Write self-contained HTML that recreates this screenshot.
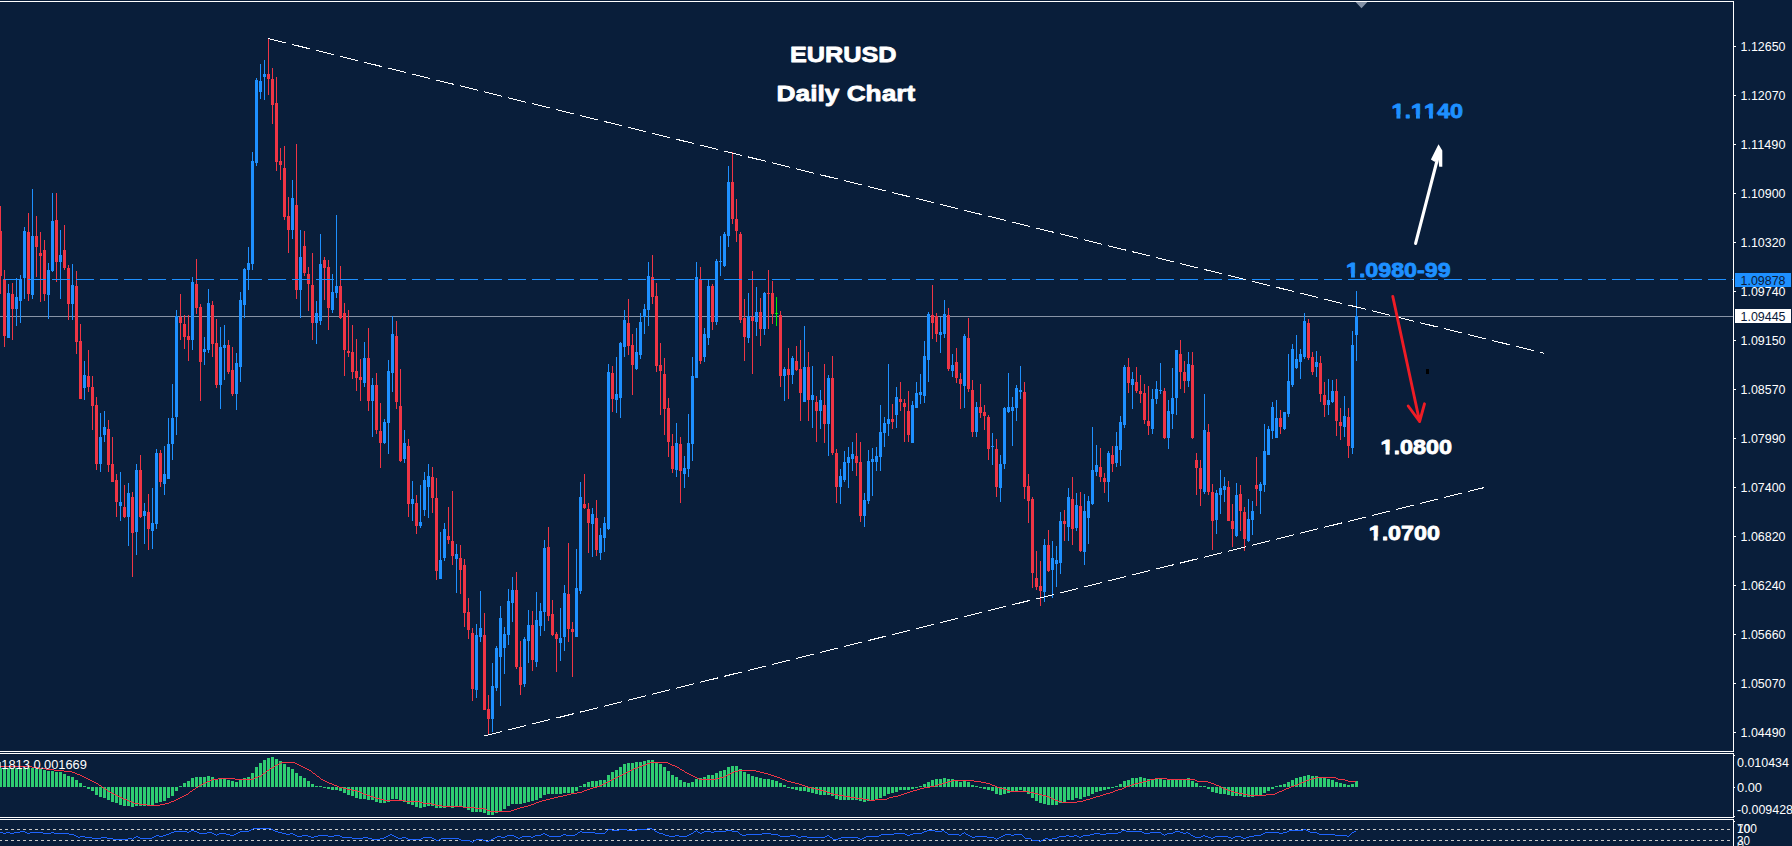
<!DOCTYPE html>
<html lang="en"><head><meta charset="utf-8"><title>EURUSD Daily Chart</title>
<style>html,body{margin:0;padding:0;background:#091e3a;overflow:hidden}body{width:1792px;height:846px}svg{display:block}text{font-family:"Liberation Sans",Arial,sans-serif}.ax{font-size:12px;fill:#fff}.b{font-weight:bold;font-kerning:none}</style></head><body>
<svg width="1792" height="846" viewBox="0 0 1792 846">
<rect width="1792" height="846" fill="#091e3a"/>
<path d="M0 316.5H1733" stroke="#8894a6" stroke-width="1" fill="none" shape-rendering="crispEdges"/>
<g shape-rendering="crispEdges">
<path fill="#1e90ff" d="M8 284h1v54h-1zM7 293h3v45h-3zM16 278h1v48h-1zM15 297h3v12h-3zM20 275h1v48h-1zM19 279h3v22h-3zM24 227h1v72h-1zM23 231h3v47h-3zM32 189h1v110h-1zM31 236h3v59h-3zM48 263h1v56h-1zM47 270h3v25h-3zM52 193h1v79h-1zM51 221h3v50h-3zM60 230h1v69h-1zM59 255h3v7h-3zM72 264h1v56h-1zM71 285h3v19h-3zM84 361h1v39h-1zM83 375h3v13h-3zM100 413h1v59h-1zM99 437h3v27h-3zM104 411h1v31h-1zM103 427h3v8h-3zM120 472h1v49h-1zM119 502h3v4h-3zM128 483h1v63h-1zM127 493h3v24h-3zM136 464h1v91h-1zM135 470h3v62h-3zM144 503h1v41h-1zM143 511h3v5h-3zM152 488h1v61h-1zM151 523h3v8h-3zM156 449h1v80h-1zM155 453h3v71h-3zM164 446h1v49h-1zM163 474h3v10h-3zM168 418h1v61h-1zM167 444h3v35h-3zM172 384h1v76h-1zM171 418h3v26h-3zM176 310h1v125h-1zM175 316h3v101h-3zM192 277h1v73h-1zM191 282h3v58h-3zM204 337h1v28h-1zM203 349h3v3h-3zM208 289h1v64h-1zM207 303h3v47h-3zM220 327h1v82h-1zM219 347h3v38h-3zM224 325h1v55h-1zM223 345h3v3h-3zM236 353h1v57h-1zM235 363h3v31h-3zM240 292h1v90h-1zM239 300h3v67h-3zM244 268h1v50h-1zM243 269h3v36h-3zM248 247h1v43h-1zM247 263h3v7h-3zM252 152h1v118h-1zM251 161h3v103h-3zM256 78h1v88h-1zM255 80h3v83h-3zM260 64h1v35h-1zM259 81h3v11h-3zM264 60h1v40h-1zM263 74h3v3h-3zM292 180h1v59h-1zM291 198h3v32h-3zM300 230h1v88h-1zM299 257h3v33h-3zM316 301h1v43h-1zM315 313h3v10h-3zM320 234h1v91h-1zM319 264h3v57h-3zM332 274h1v39h-1zM331 292h3v18h-3zM336 215h1v83h-1zM335 286h3v7h-3zM364 342h1v45h-1zM363 358h3v25h-3zM372 378h1v59h-1zM371 385h3v16h-3zM384 419h1v25h-1zM383 422h3v21h-3zM388 360h1v94h-1zM387 371h3v52h-3zM392 316h1v76h-1zM391 334h3v39h-3zM404 430h1v33h-1zM403 443h3v16h-3zM412 481h1v40h-1zM411 499h3v5h-3zM420 485h1v43h-1zM419 522h3v4h-3zM424 472h1v44h-1zM423 480h3v30h-3zM428 464h1v54h-1zM427 476h3v11h-3zM440 532h1v47h-1zM439 560h3v19h-3zM444 523h1v38h-1zM443 529h3v29h-3zM456 544h1v49h-1zM455 554h3v5h-3zM476 624h1v74h-1zM475 635h3v55h-3zM480 591h1v51h-1zM479 628h3v9h-3zM492 663h1v69h-1zM491 686h3v33h-3zM496 646h1v45h-1zM495 648h3v40h-3zM500 606h1v100h-1zM499 618h3v39h-3zM504 627h1v47h-1zM503 634h3v14h-3zM508 589h1v56h-1zM507 601h3v34h-3zM512 577h1v45h-1zM511 590h3v13h-3zM524 637h1v50h-1zM523 639h3v45h-3zM528 610h1v53h-1zM527 625h3v16h-3zM536 592h1v75h-1zM535 620h3v42h-3zM540 603h1v33h-1zM539 611h3v15h-3zM544 540h1v91h-1zM543 548h3v64h-3zM560 608h1v53h-1zM559 638h3v5h-3zM564 585h1v66h-1zM563 593h3v44h-3zM576 549h1v88h-1zM575 588h3v49h-3zM580 482h1v112h-1zM579 497h3v94h-3zM592 508h1v49h-1zM591 514h3v10h-3zM600 528h1v32h-1zM599 535h3v18h-3zM604 517h1v35h-1zM603 523h3v15h-3zM608 364h1v166h-1zM607 372h3v157h-3zM616 357h1v56h-1zM615 394h3v6h-3zM620 342h1v76h-1zM619 343h3v55h-3zM624 310h1v47h-1zM623 320h3v27h-3zM636 328h1v42h-1zM635 352h3v17h-3zM640 313h1v46h-1zM639 322h3v33h-3zM644 304h1v30h-1zM643 309h3v8h-3zM648 262h1v64h-1zM647 276h3v34h-3zM676 423h1v54h-1zM675 443h3v27h-3zM684 456h1v32h-1zM683 468h3v6h-3zM688 414h1v63h-1zM687 443h3v26h-3zM692 357h1v104h-1zM691 376h3v68h-3zM696 262h1v116h-1zM695 277h3v101h-3zM704 328h1v34h-1zM703 334h3v23h-3zM708 280h1v65h-1zM707 286h3v52h-3zM716 259h1v66h-1zM715 261h3v61h-3zM720 236h1v40h-1zM719 261h3v1h-3zM724 232h1v35h-1zM723 234h3v32h-3zM728 166h1v81h-1zM727 182h3v54h-3zM748 293h1v50h-1zM747 316h3v22h-3zM756 287h1v49h-1zM755 312h3v10h-3zM764 292h1v43h-1zM763 293h3v36h-3zM784 367h1v34h-1zM783 369h3v7h-3zM792 356h1v28h-1zM791 358h3v17h-3zM804 326h1v76h-1zM803 367h3v35h-3zM812 366h1v62h-1zM811 395h3v5h-3zM820 390h1v39h-1zM819 400h3v11h-3zM828 375h1v81h-1zM827 378h3v46h-3zM840 469h1v35h-1zM839 476h3v11h-3zM844 451h1v31h-1zM843 462h3v18h-3zM848 447h1v41h-1zM847 457h3v6h-3zM852 442h1v29h-1zM851 454h3v5h-3zM864 493h1v34h-1zM863 500h3v16h-3zM868 450h1v54h-1zM867 461h3v40h-3zM872 448h1v48h-1zM871 459h3v3h-3zM876 447h1v24h-1zM875 456h3v6h-3zM880 405h1v66h-1zM879 432h3v25h-3zM884 417h1v30h-1zM883 423h3v10h-3zM888 364h1v72h-1zM887 419h3v5h-3zM896 387h1v41h-1zM895 397h3v18h-3zM912 401h1v42h-1zM911 405h3v38h-3zM916 382h1v26h-1zM915 393h3v15h-3zM920 374h1v30h-1zM919 392h3v3h-3zM924 341h1v62h-1zM923 356h3v40h-3zM928 312h1v70h-1zM927 314h3v46h-3zM940 317h1v36h-1zM939 332h3v3h-3zM944 300h1v38h-1zM943 314h3v20h-3zM952 354h1v23h-1zM951 365h3v6h-3zM964 334h1v74h-1zM963 336h3v50h-3zM976 402h1v35h-1zM975 407h3v25h-3zM992 433h1v32h-1zM991 446h3v1h-3zM1000 455h1v47h-1zM999 464h3v24h-3zM1004 407h1v62h-1zM1003 408h3v56h-3zM1008 373h1v40h-1zM1007 407h3v5h-3zM1012 397h1v49h-1zM1011 407h3v4h-3zM1016 385h1v36h-1zM1015 388h3v20h-3zM1020 366h1v33h-1zM1019 390h3v2h-3zM1044 539h1v63h-1zM1043 545h3v47h-3zM1052 541h1v57h-1zM1051 558h3v12h-3zM1056 546h1v41h-1zM1055 560h3v4h-3zM1060 512h1v62h-1zM1059 521h3v42h-3zM1068 488h1v53h-1zM1067 497h3v30h-3zM1076 493h1v38h-1zM1075 505h3v23h-3zM1084 494h1v71h-1zM1083 511h3v41h-3zM1088 496h1v48h-1zM1087 501h3v17h-3zM1092 427h1v78h-1zM1091 470h3v34h-3zM1096 445h1v31h-1zM1095 465h3v7h-3zM1108 451h1v51h-1zM1107 453h3v29h-3zM1116 432h1v35h-1zM1115 446h3v17h-3zM1120 416h1v50h-1zM1119 422h3v28h-3zM1124 365h1v63h-1zM1123 367h3v58h-3zM1132 372h1v37h-1zM1131 379h3v6h-3zM1152 389h1v45h-1zM1151 399h3v30h-3zM1156 381h1v23h-1zM1155 389h3v10h-3zM1160 363h1v31h-1zM1159 390h3v1h-3zM1168 400h1v49h-1zM1167 411h3v27h-3zM1172 368h1v61h-1zM1171 398h3v16h-3zM1176 350h1v65h-1zM1175 350h3v48h-3zM1188 352h1v35h-1zM1187 364h3v17h-3zM1204 394h1v100h-1zM1203 430h3v62h-3zM1216 490h1v44h-1zM1215 493h3v27h-3zM1220 470h1v44h-1zM1219 488h3v7h-3zM1224 477h1v25h-1zM1223 486h3v4h-3zM1236 483h1v54h-1zM1235 495h3v41h-3zM1248 499h1v43h-1zM1247 519h3v22h-3zM1252 501h1v34h-1zM1251 511h3v9h-3zM1260 482h1v32h-1zM1259 484h3v7h-3zM1264 424h1v68h-1zM1263 451h3v34h-3zM1268 426h1v29h-1zM1267 429h3v26h-3zM1272 402h1v37h-1zM1271 407h3v24h-3zM1276 400h1v38h-1zM1275 418h3v20h-3zM1284 412h1v18h-1zM1283 412h3v17h-3zM1288 354h1v63h-1zM1287 381h3v33h-3zM1292 344h1v43h-1zM1291 349h3v36h-3zM1296 335h1v34h-1zM1295 359h3v9h-3zM1300 349h1v30h-1zM1299 354h3v8h-3zM1304 313h1v46h-1zM1303 321h3v36h-3zM1316 351h1v26h-1zM1315 362h3v5h-3zM1328 379h1v36h-1zM1327 400h3v5h-3zM1332 380h1v23h-1zM1331 391h3v11h-3zM1344 396h1v41h-1zM1343 416h3v11h-3zM1352 331h1v123h-1zM1351 345h3v103h-3zM1356 291h1v70h-1zM1355 316h3v19h-3z"/>
<path fill="#ef3545" d="M0 206h1v88h-1zM-1 231h3v45h-3zM4 270h1v77h-1zM3 279h3v57h-3zM12 283h1v57h-1zM11 294h3v15h-3zM28 213h1v88h-1zM27 232h3v62h-3zM36 216h1v61h-1zM35 236h3v11h-3zM40 232h1v70h-1zM39 253h3v3h-3zM44 240h1v61h-1zM43 250h3v44h-3zM56 193h1v89h-1zM55 220h3v42h-3zM64 225h1v45h-1zM63 250h3v18h-3zM68 265h1v55h-1zM67 268h3v36h-3zM76 271h1v83h-1zM75 286h3v56h-3zM80 324h1v75h-1zM79 341h3v58h-3zM88 350h1v42h-1zM87 376h3v11h-3zM92 376h1v54h-1zM91 387h3v19h-3zM96 397h1v73h-1zM95 405h3v59h-3zM108 420h1v52h-1zM107 429h3v36h-3zM112 437h1v45h-1zM111 464h3v18h-3zM116 474h1v43h-1zM115 480h3v22h-3zM124 485h1v33h-1zM123 507h3v10h-3zM132 492h1v85h-1zM131 497h3v36h-3zM140 455h1v63h-1zM139 470h3v47h-3zM148 494h1v56h-1zM147 512h3v17h-3zM160 450h1v37h-1zM159 453h3v29h-3zM180 294h1v46h-1zM179 317h3v6h-3zM184 315h1v34h-1zM183 324h3v13h-3zM188 315h1v46h-1zM187 336h3v4h-3zM196 259h1v55h-1zM195 284h3v24h-3zM200 304h1v97h-1zM199 307h3v55h-3zM212 301h1v56h-1zM211 305h3v39h-3zM216 319h1v69h-1zM215 343h3v42h-3zM228 340h1v34h-1zM227 345h3v27h-3zM232 347h1v49h-1zM231 370h3v24h-3zM268 38h1v57h-1zM267 74h3v5h-3zM272 68h1v56h-1zM271 79h3v26h-3zM276 77h1v94h-1zM275 103h3v59h-3zM280 148h1v32h-1zM279 161h3v4h-3zM284 146h1v74h-1zM283 168h3v49h-3zM288 197h1v56h-1zM287 216h3v14h-3zM296 144h1v155h-1zM295 205h3v85h-3zM304 231h1v45h-1zM303 246h3v27h-3zM308 267h1v44h-1zM307 274h3v10h-3zM312 253h1v87h-1zM311 285h3v38h-3zM324 257h1v43h-1zM323 260h3v8h-3zM328 260h1v70h-1zM327 267h3v41h-3zM340 266h1v53h-1zM339 286h3v32h-3zM344 303h1v73h-1zM343 313h3v37h-3zM348 310h1v47h-1zM347 351h3v2h-3zM352 325h1v54h-1zM351 352h3v20h-3zM356 339h1v52h-1zM355 371h3v7h-3zM360 359h1v42h-1zM359 377h3v3h-3zM368 328h1v83h-1zM367 358h3v43h-3zM376 373h1v61h-1zM375 385h3v45h-3zM380 403h1v65h-1zM379 431h3v12h-3zM396 321h1v88h-1zM395 336h3v66h-3zM400 369h1v93h-1zM399 406h3v55h-3zM408 439h1v78h-1zM407 446h3v58h-3zM416 495h1v39h-1zM415 503h3v23h-3zM432 467h1v46h-1zM431 477h3v21h-3zM436 478h1v102h-1zM435 498h3v73h-3zM448 507h1v37h-1zM447 536h3v4h-3zM452 491h1v74h-1zM451 541h3v15h-3zM460 545h1v49h-1zM459 558h3v12h-3zM464 559h1v68h-1zM463 565h3v48h-3zM468 598h1v41h-1zM467 612h3v18h-3zM472 628h1v73h-1zM471 633h3v56h-3zM484 613h1v97h-1zM483 635h3v75h-3zM488 695h1v39h-1zM487 709h3v10h-3zM516 572h1v97h-1zM515 590h3v77h-3zM520 641h1v54h-1zM519 667h3v18h-3zM532 611h1v60h-1zM531 625h3v35h-3zM548 527h1v94h-1zM547 547h3v69h-3zM552 600h1v36h-1zM551 614h3v21h-3zM556 632h1v40h-1zM555 634h3v5h-3zM568 543h1v99h-1zM567 594h3v35h-3zM572 622h1v55h-1zM571 629h3v3h-3zM584 474h1v35h-1zM583 504h3v4h-3zM588 503h1v50h-1zM587 509h3v14h-3zM596 500h1v56h-1zM595 518h3v32h-3zM612 366h1v46h-1zM611 373h3v26h-3zM628 299h1v56h-1zM627 323h3v23h-3zM632 334h1v61h-1zM631 345h3v20h-3zM652 255h1v49h-1zM651 277h3v20h-3zM656 283h1v89h-1zM655 296h3v70h-3zM660 343h1v72h-1zM659 365h3v6h-3zM664 358h1v77h-1zM663 374h3v35h-3zM668 398h1v59h-1zM667 408h3v34h-3zM672 434h1v39h-1zM671 446h3v23h-3zM680 437h1v66h-1zM679 444h3v27h-3zM700 267h1v97h-1zM699 279h3v82h-3zM712 284h1v46h-1zM711 286h3v36h-3zM732 152h1v72h-1zM731 182h3v37h-3zM736 199h1v43h-1zM735 219h3v12h-3zM740 232h1v91h-1zM739 234h3v86h-3zM744 299h1v62h-1zM743 318h3v19h-3zM752 271h1v103h-1zM751 317h3v4h-3zM760 298h1v48h-1zM759 312h3v17h-3zM768 270h1v59h-1zM767 293h3v1h-3zM772 281h1v43h-1zM771 293h3v21h-3zM780 311h1v76h-1zM779 315h3v61h-3zM788 348h1v51h-1zM787 369h3v6h-3zM796 346h1v25h-1zM795 361h3v9h-3zM800 340h1v81h-1zM799 369h3v24h-3zM808 352h1v69h-1zM807 367h3v33h-3zM816 396h1v46h-1zM815 402h3v9h-3zM824 364h1v79h-1zM823 405h3v19h-3zM832 356h1v99h-1zM831 378h3v75h-3zM836 449h1v54h-1zM835 453h3v34h-3zM856 433h1v43h-1zM855 456h3v7h-3zM860 442h1v80h-1zM859 462h3v54h-3zM892 404h1v25h-1zM891 419h3v3h-3zM900 382h1v29h-1zM899 399h3v3h-3zM904 399h1v43h-1zM903 403h3v4h-3zM908 391h1v51h-1zM907 411h3v24h-3zM932 285h1v54h-1zM931 315h3v8h-3zM936 313h1v29h-1zM935 316h3v18h-3zM948 308h1v63h-1zM947 315h3v54h-3zM956 348h1v35h-1zM955 362h3v16h-3zM960 373h1v36h-1zM959 379h3v5h-3zM968 318h1v74h-1zM967 338h3v51h-3zM972 380h1v57h-1zM971 390h3v42h-3zM980 384h1v34h-1zM979 407h3v6h-3zM984 405h1v25h-1zM983 412h3v4h-3zM988 415h1v45h-1zM987 417h3v32h-3zM996 439h1v58h-1zM995 449h3v38h-3zM1024 382h1v117h-1zM1023 392h3v95h-3zM1028 474h1v49h-1zM1027 486h3v15h-3zM1032 497h1v91h-1zM1031 499h3v74h-3zM1036 551h1v39h-1zM1035 578h3v9h-3zM1040 561h1v45h-1zM1039 586h3v5h-3zM1048 530h1v42h-1zM1047 545h3v26h-3zM1064 510h1v31h-1zM1063 521h3v3h-3zM1072 477h1v68h-1zM1071 499h3v30h-3zM1080 492h1v60h-1zM1079 506h3v45h-3zM1100 448h1v34h-1zM1099 467h3v10h-3zM1104 473h1v20h-1zM1103 478h3v4h-3zM1112 446h1v26h-1zM1111 455h3v9h-3zM1128 358h1v35h-1zM1127 367h3v16h-3zM1136 367h1v26h-1zM1135 382h3v9h-3zM1140 375h1v28h-1zM1139 391h3v3h-3zM1144 384h1v40h-1zM1143 393h3v27h-3zM1148 386h1v49h-1zM1147 421h3v5h-3zM1164 388h1v51h-1zM1163 391h3v47h-3zM1180 340h1v49h-1zM1179 354h3v18h-3zM1184 361h1v32h-1zM1183 372h3v9h-3zM1192 352h1v87h-1zM1191 365h3v73h-3zM1196 453h1v42h-1zM1195 460h3v8h-3zM1200 460h1v46h-1zM1199 468h3v21h-3zM1208 424h1v71h-1zM1207 432h3v60h-3zM1212 484h1v66h-1zM1211 492h3v29h-3zM1228 481h1v40h-1zM1227 487h3v34h-3zM1232 504h1v43h-1zM1231 521h3v8h-3zM1240 485h1v46h-1zM1239 494h3v17h-3zM1244 507h1v44h-1zM1243 512h3v27h-3zM1256 457h1v49h-1zM1255 485h3v4h-3zM1280 410h1v24h-1zM1279 418h3v9h-3zM1308 319h1v41h-1zM1307 323h3v35h-3zM1312 352h1v23h-1zM1311 357h3v15h-3zM1320 356h1v46h-1zM1319 363h3v31h-3zM1324 382h1v35h-1zM1323 395h3v10h-3zM1336 379h1v57h-1zM1335 391h3v30h-3zM1340 408h1v32h-1zM1339 422h3v4h-3zM1348 408h1v50h-1zM1347 417h3v29h-3z"/>
<path fill="#00f000" d="M776 297h1v29h-1zM775 313h3v1h-3z"/>
</g>
<g shape-rendering="crispEdges">
<path d="M4 279.5H1733" stroke="#1e90ff" stroke-width="1" stroke-dasharray="18 6" fill="none"/>
</g>
<line x1="268.0" y1="38.5" x2="1544.2" y2="353.3" stroke="#fff" stroke-width="1" stroke-dasharray="18.54 6.18" shape-rendering="crispEdges"/>
<line x1="484.0" y1="736.0" x2="1484.5" y2="487.5" stroke="#fff" stroke-width="1" stroke-dasharray="18.55 6.18" shape-rendering="crispEdges"/>
<g shape-rendering="crispEdges" fill="#fff">
<rect x="0" y="1" width="1734" height="1"/>
<rect x="0" y="751" width="1734" height="1"/>
<rect x="0" y="753" width="1734" height="1"/>
<rect x="0" y="817" width="1734" height="1"/>
<rect x="0" y="819" width="1734" height="1"/>
<rect x="1733" y="1" width="1" height="751"/>
<rect x="1733" y="753" width="1" height="65"/>
<rect x="1733" y="819" width="1" height="27"/>
<rect x="1734" y="46" width="2" height="1"/>
<rect x="1734" y="95" width="2" height="1"/>
<rect x="1734" y="144" width="2" height="1"/>
<rect x="1734" y="193" width="2" height="1"/>
<rect x="1734" y="242" width="2" height="1"/>
<rect x="1734" y="291" width="2" height="1"/>
<rect x="1734" y="340" width="2" height="1"/>
<rect x="1734" y="389" width="2" height="1"/>
<rect x="1734" y="438" width="2" height="1"/>
<rect x="1734" y="487" width="2" height="1"/>
<rect x="1734" y="536" width="2" height="1"/>
<rect x="1734" y="585" width="2" height="1"/>
<rect x="1734" y="634" width="2" height="1"/>
<rect x="1734" y="683" width="2" height="1"/>
<rect x="1734" y="732" width="2" height="1"/>
<rect x="1734" y="755" width="1" height="1"/>
<rect x="1734" y="787" width="1" height="1"/>
<rect x="1734" y="816" width="1" height="1"/>
<rect x="1734" y="821" width="1" height="1"/>
</g>
<path d="M1355.6 2h11.8l-5.9 6.2z" fill="#8391a5"/>
<text class="ax" x="1740.5" y="50.8" textLength="45" lengthAdjust="spacingAndGlyphs">1.12650</text>
<text class="ax" x="1740.5" y="99.8" textLength="45" lengthAdjust="spacingAndGlyphs">1.12070</text>
<text class="ax" x="1740.5" y="148.8" textLength="45" lengthAdjust="spacingAndGlyphs">1.11490</text>
<text class="ax" x="1740.5" y="197.8" textLength="45" lengthAdjust="spacingAndGlyphs">1.10900</text>
<text class="ax" x="1740.5" y="246.8" textLength="45" lengthAdjust="spacingAndGlyphs">1.10320</text>
<text class="ax" x="1740.5" y="295.8" textLength="45" lengthAdjust="spacingAndGlyphs">1.09740</text>
<text class="ax" x="1740.5" y="344.8" textLength="45" lengthAdjust="spacingAndGlyphs">1.09150</text>
<text class="ax" x="1740.5" y="393.8" textLength="45" lengthAdjust="spacingAndGlyphs">1.08570</text>
<text class="ax" x="1740.5" y="442.8" textLength="45" lengthAdjust="spacingAndGlyphs">1.07990</text>
<text class="ax" x="1740.5" y="491.8" textLength="45" lengthAdjust="spacingAndGlyphs">1.07400</text>
<text class="ax" x="1740.5" y="540.8" textLength="45" lengthAdjust="spacingAndGlyphs">1.06820</text>
<text class="ax" x="1740.5" y="589.8" textLength="45" lengthAdjust="spacingAndGlyphs">1.06240</text>
<text class="ax" x="1740.5" y="638.8" textLength="45" lengthAdjust="spacingAndGlyphs">1.05660</text>
<text class="ax" x="1740.5" y="687.8" textLength="45" lengthAdjust="spacingAndGlyphs">1.05070</text>
<text class="ax" x="1740.5" y="736.8" textLength="45" lengthAdjust="spacingAndGlyphs">1.04490</text>
<rect x="1735" y="273" width="56" height="14" fill="#1e90ff" shape-rendering="crispEdges"/>
<text class="ax" x="1740.5" y="284.6" textLength="45" lengthAdjust="spacingAndGlyphs" style="fill:#0a1a38">1.09878</text>
<rect x="1735" y="309" width="56" height="14" fill="#fff" shape-rendering="crispEdges"/>
<text class="ax" x="1740.5" y="320.6" textLength="45" lengthAdjust="spacingAndGlyphs" style="fill:#0a1a38">1.09445</text>
<text class="ax" x="1737" y="767" textLength="52" lengthAdjust="spacingAndGlyphs">0.010434</text>
<text class="ax" x="1737" y="792" textLength="25" lengthAdjust="spacingAndGlyphs">0.00</text>
<text class="ax" x="1737" y="813.7" textLength="56" lengthAdjust="spacingAndGlyphs">-0.009428</text>
<text class="ax" x="1737" y="833" textLength="20" lengthAdjust="spacingAndGlyphs">100</text>
<text class="ax" x="1737" y="833" textLength="13" lengthAdjust="spacingAndGlyphs" opacity="0.8">70</text>
<text class="ax" x="1737" y="845" textLength="13" lengthAdjust="spacingAndGlyphs">30</text>
<text class="ax" x="1737" y="850" textLength="7" lengthAdjust="spacingAndGlyphs" opacity="0.8">0</text>
<path fill="#2ecc71" shape-rendering="crispEdges" d="M-1 768h3v19h-3zM3 768h3v19h-3zM7 768h3v19h-3zM11 768h3v19h-3zM15 768h3v19h-3zM19 768h3v19h-3zM23 768h3v19h-3zM27 768h3v19h-3zM31 768h3v19h-3zM35 769h3v18h-3zM39 769h3v18h-3zM43 770h3v17h-3zM47 771h3v16h-3zM51 771h3v16h-3zM55 772h3v15h-3zM59 772h3v15h-3zM63 774h3v13h-3zM67 776h3v11h-3zM71 777h3v10h-3zM75 780h3v7h-3zM79 783h3v4h-3zM83 786h3v1h-3zM87 787h3v2h-3zM91 787h3v4h-3zM95 787h3v8h-3zM99 787h3v10h-3zM103 787h3v11h-3zM107 787h3v13h-3zM111 787h3v15h-3zM115 787h3v16h-3zM119 787h3v18h-3zM123 787h3v19h-3zM127 787h3v19h-3zM131 787h3v20h-3zM135 787h3v19h-3zM139 787h3v19h-3zM143 787h3v19h-3zM147 787h3v18h-3zM151 787h3v18h-3zM155 787h3v16h-3zM159 787h3v15h-3zM163 787h3v14h-3zM167 787h3v11h-3zM171 787h3v9h-3zM175 787h3v4h-3zM179 786h3v1h-3zM183 783h3v4h-3zM187 781h3v6h-3zM191 778h3v9h-3zM195 777h3v10h-3zM199 777h3v10h-3zM203 777h3v10h-3zM207 776h3v11h-3zM211 777h3v10h-3zM215 779h3v8h-3zM219 779h3v8h-3zM223 779h3v8h-3zM227 780h3v7h-3zM231 781h3v6h-3zM235 782h3v5h-3zM239 780h3v7h-3zM243 778h3v9h-3zM247 777h3v10h-3zM251 773h3v14h-3zM255 767h3v20h-3zM259 763h3v24h-3zM263 760h3v27h-3zM267 758h3v29h-3zM271 757h3v30h-3zM275 759h3v28h-3zM279 761h3v26h-3zM283 764h3v23h-3zM287 767h3v20h-3zM291 769h3v18h-3zM295 773h3v14h-3zM299 776h3v11h-3zM303 778h3v9h-3zM307 781h3v6h-3zM311 784h3v3h-3zM315 786h3v1h-3zM319 786h3v1h-3zM323 787h3v1h-3zM327 787h3v2h-3zM331 787h3v3h-3zM335 787h3v3h-3zM339 787h3v4h-3zM343 787h3v6h-3zM347 787h3v8h-3zM351 787h3v9h-3zM355 787h3v11h-3zM359 787h3v12h-3zM363 787h3v12h-3zM367 787h3v13h-3zM371 787h3v13h-3zM375 787h3v15h-3zM379 787h3v16h-3zM383 787h3v16h-3zM387 787h3v15h-3zM391 787h3v12h-3zM395 787h3v12h-3zM399 787h3v14h-3zM403 787h3v15h-3zM407 787h3v17h-3zM411 787h3v18h-3zM415 787h3v20h-3zM419 787h3v21h-3zM423 787h3v20h-3zM427 787h3v19h-3zM431 787h3v19h-3zM435 787h3v21h-3zM439 787h3v21h-3zM443 787h3v21h-3zM447 787h3v20h-3zM451 787h3v21h-3zM455 787h3v19h-3zM459 787h3v19h-3zM463 787h3v20h-3zM467 787h3v23h-3zM471 787h3v25h-3zM475 787h3v25h-3zM479 787h3v25h-3zM483 787h3v26h-3zM487 787h3v28h-3zM491 787h3v28h-3zM495 787h3v26h-3zM499 787h3v24h-3zM503 787h3v22h-3zM507 787h3v19h-3zM511 787h3v17h-3zM515 787h3v17h-3zM519 787h3v17h-3zM523 787h3v16h-3zM527 787h3v15h-3zM531 787h3v14h-3zM535 787h3v13h-3zM539 787h3v11h-3zM543 787h3v8h-3zM547 787h3v7h-3zM551 787h3v7h-3zM555 787h3v7h-3zM559 787h3v7h-3zM563 787h3v6h-3zM567 787h3v6h-3zM571 787h3v6h-3zM575 787h3v4h-3zM579 786h3v1h-3zM583 784h3v3h-3zM587 782h3v5h-3zM591 781h3v6h-3zM595 781h3v6h-3zM599 780h3v7h-3zM603 780h3v7h-3zM607 775h3v12h-3zM611 772h3v15h-3zM615 770h3v17h-3zM619 767h3v20h-3zM623 764h3v23h-3zM627 763h3v24h-3zM631 763h3v24h-3zM635 762h3v25h-3zM639 762h3v25h-3zM643 761h3v26h-3zM647 760h3v27h-3zM651 760h3v27h-3zM655 762h3v25h-3zM659 764h3v23h-3zM663 767h3v20h-3zM667 771h3v16h-3zM671 775h3v12h-3zM675 777h3v10h-3zM679 780h3v7h-3zM683 782h3v5h-3zM687 783h3v4h-3zM691 782h3v5h-3zM695 779h3v8h-3zM699 778h3v9h-3zM703 777h3v10h-3zM707 775h3v12h-3zM711 775h3v12h-3zM715 773h3v14h-3zM719 771h3v16h-3zM723 770h3v17h-3zM727 767h3v20h-3zM731 766h3v21h-3zM735 766h3v21h-3zM739 769h3v18h-3zM743 772h3v15h-3zM747 774h3v13h-3zM751 776h3v11h-3zM755 777h3v10h-3zM759 778h3v9h-3zM763 779h3v8h-3zM767 779h3v8h-3zM771 780h3v7h-3zM775 781h3v6h-3zM779 783h3v4h-3zM783 785h3v2h-3zM787 787h3v1h-3zM791 787h3v2h-3zM795 787h3v3h-3zM799 787h3v4h-3zM803 787h3v4h-3zM807 787h3v5h-3zM811 787h3v6h-3zM815 787h3v7h-3zM819 787h3v8h-3zM823 787h3v8h-3zM827 787h3v8h-3zM831 787h3v9h-3zM835 787h3v12h-3zM839 787h3v13h-3zM843 787h3v13h-3zM847 787h3v13h-3zM851 787h3v13h-3zM855 787h3v13h-3zM859 787h3v14h-3zM863 787h3v15h-3zM867 787h3v14h-3zM871 787h3v14h-3zM875 787h3v12h-3zM879 787h3v11h-3zM883 787h3v9h-3zM887 787h3v7h-3zM891 787h3v6h-3zM895 787h3v5h-3zM899 787h3v3h-3zM903 787h3v3h-3zM907 787h3v3h-3zM911 787h3v2h-3zM915 787h3v1h-3zM919 786h3v1h-3zM923 784h3v3h-3zM927 782h3v5h-3zM931 780h3v7h-3zM935 779h3v8h-3zM939 779h3v8h-3zM943 778h3v9h-3zM947 779h3v8h-3zM951 779h3v8h-3zM955 781h3v6h-3zM959 782h3v5h-3zM963 781h3v6h-3zM967 782h3v5h-3zM971 785h3v2h-3zM975 786h3v1h-3zM979 787h3v1h-3zM983 787h3v2h-3zM987 787h3v3h-3zM991 787h3v4h-3zM995 787h3v7h-3zM999 787h3v8h-3zM1003 787h3v7h-3zM1007 787h3v6h-3zM1011 787h3v4h-3zM1015 787h3v4h-3zM1019 787h3v3h-3zM1023 787h3v4h-3zM1027 787h3v7h-3zM1031 787h3v11h-3zM1035 787h3v14h-3zM1039 787h3v16h-3zM1043 787h3v17h-3zM1047 787h3v18h-3zM1051 787h3v18h-3zM1055 787h3v18h-3zM1059 787h3v16h-3zM1063 787h3v15h-3zM1067 787h3v13h-3zM1071 787h3v13h-3zM1075 787h3v11h-3zM1079 787h3v12h-3zM1083 787h3v10h-3zM1087 787h3v9h-3zM1091 787h3v7h-3zM1095 787h3v5h-3zM1099 787h3v4h-3zM1103 787h3v3h-3zM1107 787h3v2h-3zM1111 787h3v1h-3zM1115 786h3v1h-3zM1119 784h3v3h-3zM1123 781h3v6h-3zM1127 780h3v7h-3zM1131 778h3v9h-3zM1135 778h3v9h-3zM1139 777h3v10h-3zM1143 778h3v9h-3zM1147 779h3v8h-3zM1151 779h3v8h-3zM1155 778h3v9h-3zM1159 778h3v9h-3zM1163 780h3v7h-3zM1167 780h3v7h-3zM1171 780h3v7h-3zM1175 780h3v7h-3zM1179 780h3v7h-3zM1183 780h3v7h-3zM1187 778h3v9h-3zM1191 781h3v6h-3zM1195 783h3v4h-3zM1199 786h3v1h-3zM1203 786h3v1h-3zM1207 787h3v2h-3zM1211 787h3v5h-3zM1215 787h3v6h-3zM1219 787h3v7h-3zM1223 787h3v7h-3zM1227 787h3v8h-3zM1231 787h3v9h-3zM1235 787h3v9h-3zM1239 787h3v9h-3zM1243 787h3v10h-3zM1247 787h3v10h-3zM1251 787h3v10h-3zM1255 787h3v9h-3zM1259 787h3v8h-3zM1263 787h3v6h-3zM1267 787h3v4h-3zM1271 787h3v2h-3zM1275 786h3v1h-3zM1279 785h3v2h-3zM1283 784h3v3h-3zM1287 782h3v5h-3zM1291 780h3v7h-3zM1295 778h3v9h-3zM1299 777h3v10h-3zM1303 776h3v11h-3zM1307 775h3v12h-3zM1311 776h3v11h-3zM1315 776h3v11h-3zM1319 778h3v9h-3zM1323 778h3v9h-3zM1327 779h3v8h-3zM1331 780h3v7h-3zM1335 782h3v5h-3zM1339 783h3v4h-3zM1343 784h3v3h-3zM1347 785h3v2h-3zM1351 784h3v3h-3zM1355 781h3v6h-3z"/>
<path fill="#ef3545" shape-rendering="crispEdges" d="M281 762h14v1h-14zM650 762h18v1h-18zM279 763h2v1h-2zM295 763h2v1h-2zM647 763h3v1h-3zM668 763h2v1h-2zM277 764h2v1h-2zM297 764h2v1h-2zM645 764h2v1h-2zM670 764h2v1h-2zM275 765h2v1h-2zM299 765h2v1h-2zM642 765h3v1h-3zM672 765h3v1h-3zM0 766h32v1h-32zM274 766h1v1h-1zM301 766h2v1h-2zM639 766h3v1h-3zM675 766h2v1h-2zM32 767h6v1h-6zM272 767h2v1h-2zM303 767h2v1h-2zM637 767h2v1h-2zM677 767h2v1h-2zM38 768h8v1h-8zM270 768h2v1h-2zM305 768h2v1h-2zM634 768h3v1h-3zM679 768h1v1h-1zM46 769h8v1h-8zM269 769h1v1h-1zM307 769h2v1h-2zM632 769h2v1h-2zM680 769h2v1h-2zM54 770h10v1h-10zM267 770h2v1h-2zM309 770h2v1h-2zM630 770h2v1h-2zM682 770h2v1h-2zM738 770h18v1h-18zM64 771h8v1h-8zM266 771h1v1h-1zM311 771h1v1h-1zM628 771h2v1h-2zM684 771h1v1h-1zM734 771h4v1h-4zM756 771h4v1h-4zM72 772h3v1h-3zM265 772h1v1h-1zM312 772h1v1h-1zM626 772h2v1h-2zM685 772h2v1h-2zM732 772h2v1h-2zM760 772h4v1h-4zM75 773h2v1h-2zM263 773h2v1h-2zM313 773h2v1h-2zM624 773h2v1h-2zM687 773h2v1h-2zM730 773h2v1h-2zM764 773h4v1h-4zM77 774h3v1h-3zM262 774h1v1h-1zM315 774h1v1h-1zM622 774h2v1h-2zM689 774h2v1h-2zM728 774h2v1h-2zM768 774h3v1h-3zM80 775h2v1h-2zM261 775h1v1h-1zM316 775h1v1h-1zM620 775h2v1h-2zM691 775h2v1h-2zM726 775h2v1h-2zM771 775h3v1h-3zM82 776h2v1h-2zM258 776h3v1h-3zM317 776h2v1h-2zM618 776h2v1h-2zM693 776h2v1h-2zM724 776h2v1h-2zM774 776h3v1h-3zM84 777h2v1h-2zM255 777h3v1h-3zM319 777h1v1h-1zM616 777h2v1h-2zM695 777h2v1h-2zM720 777h4v1h-4zM777 777h3v1h-3zM1316 777h20v1h-20zM86 778h2v1h-2zM218 778h17v1h-17zM253 778h2v1h-2zM320 778h1v1h-1zM614 778h2v1h-2zM697 778h2v1h-2zM716 778h4v1h-4zM780 778h2v1h-2zM1155 778h12v1h-12zM1312 778h4v1h-4zM1336 778h2v1h-2zM88 779h2v1h-2zM212 779h6v1h-6zM235 779h18v1h-18zM321 779h2v1h-2zM612 779h2v1h-2zM699 779h17v1h-17zM782 779h3v1h-3zM1150 779h5v1h-5zM1167 779h28v1h-28zM1309 779h3v1h-3zM1338 779h7v1h-7zM90 780h2v1h-2zM210 780h2v1h-2zM323 780h2v1h-2zM610 780h2v1h-2zM785 780h2v1h-2zM952 780h22v1h-22zM1147 780h3v1h-3zM1195 780h2v1h-2zM1306 780h3v1h-3zM1345 780h3v1h-3zM92 781h2v1h-2zM207 781h3v1h-3zM325 781h2v1h-2zM608 781h2v1h-2zM787 781h4v1h-4zM948 781h4v1h-4zM974 781h7v1h-7zM1143 781h4v1h-4zM1197 781h11v1h-11zM1304 781h2v1h-2zM1348 781h8v1h-8zM94 782h2v1h-2zM205 782h2v1h-2zM327 782h2v1h-2zM606 782h2v1h-2zM791 782h4v1h-4zM945 782h3v1h-3zM981 782h5v1h-5zM1139 782h4v1h-4zM1208 782h3v1h-3zM1301 782h3v1h-3zM96 783h2v1h-2zM203 783h2v1h-2zM329 783h3v1h-3zM604 783h2v1h-2zM795 783h4v1h-4zM942 783h3v1h-3zM986 783h4v1h-4zM1135 783h4v1h-4zM1211 783h3v1h-3zM1299 783h2v1h-2zM98 784h1v1h-1zM201 784h2v1h-2zM332 784h2v1h-2zM602 784h2v1h-2zM799 784h3v1h-3zM938 784h4v1h-4zM990 784h2v1h-2zM1132 784h3v1h-3zM1214 784h2v1h-2zM1297 784h2v1h-2zM99 785h2v1h-2zM199 785h2v1h-2zM334 785h3v1h-3zM600 785h2v1h-2zM802 785h3v1h-3zM935 785h3v1h-3zM992 785h3v1h-3zM1129 785h3v1h-3zM1216 785h3v1h-3zM1294 785h3v1h-3zM101 786h1v1h-1zM198 786h1v1h-1zM337 786h2v1h-2zM597 786h3v1h-3zM805 786h3v1h-3zM930 786h5v1h-5zM995 786h2v1h-2zM1126 786h3v1h-3zM1219 786h2v1h-2zM1291 786h3v1h-3zM102 787h2v1h-2zM196 787h2v1h-2zM339 787h4v1h-4zM593 787h4v1h-4zM808 787h4v1h-4zM924 787h6v1h-6zM997 787h3v1h-3zM1124 787h2v1h-2zM1221 787h2v1h-2zM1289 787h2v1h-2zM104 788h1v1h-1zM195 788h1v1h-1zM343 788h4v1h-4zM590 788h3v1h-3zM812 788h4v1h-4zM920 788h4v1h-4zM1000 788h4v1h-4zM1122 788h2v1h-2zM1223 788h2v1h-2zM1286 788h3v1h-3zM105 789h2v1h-2zM193 789h2v1h-2zM347 789h5v1h-5zM587 789h3v1h-3zM816 789h4v1h-4zM917 789h3v1h-3zM1004 789h3v1h-3zM1118 789h4v1h-4zM1225 789h3v1h-3zM1284 789h2v1h-2zM107 790h1v1h-1zM192 790h1v1h-1zM352 790h5v1h-5zM584 790h3v1h-3zM820 790h4v1h-4zM913 790h4v1h-4zM1007 790h3v1h-3zM1115 790h3v1h-3zM1228 790h3v1h-3zM1282 790h2v1h-2zM108 791h2v1h-2zM190 791h2v1h-2zM357 791h3v1h-3zM582 791h2v1h-2zM824 791h3v1h-3zM910 791h3v1h-3zM1010 791h19v1h-19zM1113 791h2v1h-2zM1231 791h3v1h-3zM1279 791h3v1h-3zM110 792h2v1h-2zM189 792h1v1h-1zM360 792h2v1h-2zM577 792h5v1h-5zM827 792h3v1h-3zM907 792h3v1h-3zM1029 792h5v1h-5zM1110 792h3v1h-3zM1234 792h4v1h-4zM1277 792h2v1h-2zM112 793h2v1h-2zM188 793h1v1h-1zM362 793h2v1h-2zM571 793h6v1h-6zM830 793h3v1h-3zM904 793h3v1h-3zM1034 793h4v1h-4zM1106 793h4v1h-4zM1238 793h5v1h-5zM1275 793h2v1h-2zM114 794h2v1h-2zM186 794h2v1h-2zM364 794h3v1h-3zM567 794h4v1h-4zM833 794h5v1h-5zM901 794h3v1h-3zM1038 794h4v1h-4zM1103 794h3v1h-3zM1243 794h5v1h-5zM1266 794h9v1h-9zM116 795h2v1h-2zM184 795h2v1h-2zM367 795h3v1h-3zM563 795h4v1h-4zM838 795h6v1h-6zM898 795h3v1h-3zM1042 795h4v1h-4zM1100 795h3v1h-3zM1248 795h18v1h-18zM118 796h2v1h-2zM182 796h2v1h-2zM370 796h3v1h-3zM558 796h5v1h-5zM844 796h6v1h-6zM893 796h5v1h-5zM1046 796h3v1h-3zM1096 796h4v1h-4zM120 797h2v1h-2zM180 797h2v1h-2zM373 797h3v1h-3zM554 797h4v1h-4zM850 797h6v1h-6zM889 797h4v1h-4zM1049 797h2v1h-2zM1093 797h3v1h-3zM122 798h2v1h-2zM178 798h2v1h-2zM376 798h4v1h-4zM550 798h4v1h-4zM856 798h7v1h-7zM887 798h2v1h-2zM1051 798h2v1h-2zM1090 798h3v1h-3zM124 799h3v1h-3zM176 799h2v1h-2zM380 799h4v1h-4zM546 799h4v1h-4zM863 799h6v1h-6zM875 799h12v1h-12zM1053 799h2v1h-2zM1086 799h4v1h-4zM127 800h2v1h-2zM174 800h2v1h-2zM384 800h21v1h-21zM542 800h4v1h-4zM869 800h6v1h-6zM1055 800h3v1h-3zM1083 800h3v1h-3zM129 801h3v1h-3zM171 801h3v1h-3zM405 801h15v1h-15zM539 801h3v1h-3zM1058 801h4v1h-4zM1077 801h6v1h-6zM132 802h2v1h-2zM169 802h2v1h-2zM420 802h3v1h-3zM536 802h3v1h-3zM1062 802h15v1h-15zM134 803h5v1h-5zM165 803h4v1h-4zM423 803h9v1h-9zM534 803h2v1h-2zM139 804h8v1h-8zM160 804h5v1h-5zM432 804h4v1h-4zM531 804h3v1h-3zM147 805h13v1h-13zM436 805h6v1h-6zM528 805h3v1h-3zM442 806h21v1h-21zM524 806h4v1h-4zM463 807h12v1h-12zM520 807h4v1h-4zM475 808h10v1h-10zM517 808h3v1h-3zM485 809h2v1h-2zM514 809h3v1h-3zM487 810h3v1h-3zM511 810h3v1h-3zM490 811h21v1h-21z"/>
<rect x="0" y="762" width="1" height="6" fill="#dfe8d8" opacity="0.75" shape-rendering="crispEdges"/>
<text class="ax" x="1.3" y="769" textLength="85.6" lengthAdjust="spacingAndGlyphs">1813 0.001669</text>
<g shape-rendering="crispEdges">
<path d="M-1 829.5H1733M-1 840.5H1733" stroke="#c8c8c8" stroke-width="1" stroke-dasharray="3 3" fill="none"/>
</g>
<path fill="#1e64ff" shape-rendering="crispEdges" d="M253 828h18v1h-18zM647 828h5v1h-5zM251 829h2v1h-2zM271 829h2v1h-2zM608 829h4v1h-4zM619 829h8v1h-8zM637 829h10v1h-10zM652 829h2v1h-2zM1303 829h3v1h-3zM191 830h3v1h-3zM249 830h2v1h-2zM273 830h2v1h-2zM607 830h1v1h-1zM612 830h7v1h-7zM627 830h10v1h-10zM654 830h1v1h-1zM696 830h1v1h-1zM726 830h6v1h-6zM927 830h8v1h-8zM942 830h2v1h-2zM1122 830h4v1h-4zM1289 830h14v1h-14zM1306 830h2v1h-2zM20 831h5v1h-5zM174 831h13v1h-13zM189 831h2v1h-2zM194 831h3v1h-3zM240 831h9v1h-9zM275 831h3v1h-3zM580 831h2v1h-2zM606 831h1v1h-1zM655 831h2v1h-2zM694 831h2v1h-2zM697 831h1v1h-1zM704 831h7v1h-7zM714 831h12v1h-12zM732 831h6v1h-6zM924 831h3v1h-3zM935 831h7v1h-7zM944 831h1v1h-1zM1121 831h1v1h-1zM1126 831h16v1h-16zM1175 831h5v1h-5zM1287 831h2v1h-2zM1308 831h2v1h-2zM1354 831h2v1h-2zM0 832h3v1h-3zM6 832h4v1h-4zM14 832h6v1h-6zM25 832h2v1h-2zM30 832h13v1h-13zM51 832h3v1h-3zM171 832h3v1h-3zM187 832h2v1h-2zM197 832h2v1h-2zM207 832h5v1h-5zM238 832h2v1h-2zM278 832h4v1h-4zM578 832h2v1h-2zM582 832h13v1h-13zM605 832h1v1h-1zM657 832h2v1h-2zM693 832h1v1h-1zM698 832h2v1h-2zM702 832h2v1h-2zM711 832h3v1h-3zM738 832h1v1h-1zM922 832h2v1h-2zM945 832h2v1h-2zM964 832h1v1h-1zM1118 832h3v1h-3zM1142 832h2v1h-2zM1150 832h11v1h-11zM1173 832h2v1h-2zM1180 832h3v1h-3zM1186 832h2v1h-2zM1265 832h14v1h-14zM1283 832h4v1h-4zM1310 832h7v1h-7zM1352 832h2v1h-2zM3 833h3v1h-3zM10 833h4v1h-4zM27 833h3v1h-3zM43 833h8v1h-8zM54 833h15v1h-15zM169 833h2v1h-2zM199 833h8v1h-8zM212 833h2v1h-2zM219 833h7v1h-7zM236 833h2v1h-2zM282 833h4v1h-4zM290 833h3v1h-3zM543 833h2v1h-2zM577 833h1v1h-1zM595 833h10v1h-10zM659 833h4v1h-4zM691 833h2v1h-2zM700 833h2v1h-2zM739 833h1v1h-1zM762 833h9v1h-9zM894 833h11v1h-11zM913 833h9v1h-9zM947 833h1v1h-1zM962 833h2v1h-2zM965 833h1v1h-1zM1094 833h6v1h-6zM1106 833h12v1h-12zM1144 833h6v1h-6zM1161 833h1v1h-1zM1167 833h6v1h-6zM1183 833h3v1h-3zM1188 833h2v1h-2zM1263 833h2v1h-2zM1279 833h4v1h-4zM1317 833h2v1h-2zM1351 833h1v1h-1zM69 834h5v1h-5zM166 834h3v1h-3zM214 834h2v1h-2zM217 834h2v1h-2zM226 834h4v1h-4zM234 834h2v1h-2zM286 834h4v1h-4zM293 834h2v1h-2zM390 834h2v1h-2zM541 834h2v1h-2zM545 834h2v1h-2zM563 834h3v1h-3zM575 834h2v1h-2zM663 834h2v1h-2zM689 834h2v1h-2zM740 834h2v1h-2zM746 834h16v1h-16zM771 834h7v1h-7zM881 834h13v1h-13zM905 834h2v1h-2zM910 834h3v1h-3zM948 834h11v1h-11zM961 834h1v1h-1zM966 834h2v1h-2zM1005 834h6v1h-6zM1014 834h8v1h-8zM1090 834h4v1h-4zM1100 834h6v1h-6zM1162 834h2v1h-2zM1165 834h2v1h-2zM1190 834h1v1h-1zM1261 834h2v1h-2zM1319 834h16v1h-16zM1350 834h1v1h-1zM74 835h2v1h-2zM156 835h3v1h-3zM163 835h3v1h-3zM216 835h1v1h-1zM230 835h4v1h-4zM295 835h2v1h-2zM302 835h6v1h-6zM318 835h10v1h-10zM334 835h6v1h-6zM388 835h2v1h-2zM392 835h2v1h-2zM507 835h7v1h-7zM535 835h6v1h-6zM547 835h2v1h-2zM561 835h2v1h-2zM566 835h9v1h-9zM665 835h4v1h-4zM675 835h4v1h-4zM687 835h2v1h-2zM742 835h4v1h-4zM778 835h2v1h-2zM790 835h6v1h-6zM827 835h2v1h-2zM879 835h2v1h-2zM907 835h3v1h-3zM959 835h2v1h-2zM968 835h2v1h-2zM1003 835h2v1h-2zM1011 835h3v1h-3zM1022 835h1v1h-1zM1066 835h3v1h-3zM1074 835h3v1h-3zM1083 835h7v1h-7zM1164 835h1v1h-1zM1191 835h2v1h-2zM1203 835h2v1h-2zM1254 835h7v1h-7zM1335 835h12v1h-12zM1349 835h1v1h-1zM76 836h2v1h-2zM80 836h5v1h-5zM136 836h2v1h-2zM154 836h2v1h-2zM159 836h4v1h-4zM297 836h5v1h-5zM308 836h3v1h-3zM314 836h4v1h-4zM328 836h6v1h-6zM340 836h2v1h-2zM386 836h2v1h-2zM394 836h2v1h-2zM497 836h4v1h-4zM505 836h2v1h-2zM514 836h2v1h-2zM522 836h9v1h-9zM533 836h2v1h-2zM549 836h12v1h-12zM669 836h6v1h-6zM679 836h8v1h-8zM780 836h10v1h-10zM796 836h2v1h-2zM801 836h6v1h-6zM825 836h2v1h-2zM829 836h1v1h-1zM866 836h13v1h-13zM970 836h2v1h-2zM975 836h12v1h-12zM1001 836h2v1h-2zM1023 836h1v1h-1zM1059 836h7v1h-7zM1069 836h5v1h-5zM1077 836h2v1h-2zM1081 836h2v1h-2zM1193 836h2v1h-2zM1201 836h2v1h-2zM1205 836h3v1h-3zM1215 836h13v1h-13zM1235 836h6v1h-6zM1249 836h5v1h-5zM1347 836h2v1h-2zM78 837h2v1h-2zM85 837h7v1h-7zM101 837h6v1h-6zM134 837h2v1h-2zM138 837h2v1h-2zM152 837h2v1h-2zM311 837h3v1h-3zM342 837h10v1h-10zM363 837h5v1h-5zM384 837h2v1h-2zM396 837h2v1h-2zM402 837h4v1h-4zM423 837h9v1h-9zM495 837h2v1h-2zM501 837h4v1h-4zM516 837h2v1h-2zM520 837h2v1h-2zM531 837h2v1h-2zM798 837h3v1h-3zM807 837h18v1h-18zM830 837h2v1h-2zM841 837h17v1h-17zM864 837h2v1h-2zM972 837h3v1h-3zM987 837h7v1h-7zM999 837h2v1h-2zM1024 837h1v1h-1zM1057 837h2v1h-2zM1079 837h2v1h-2zM1195 837h6v1h-6zM1208 837h3v1h-3zM1213 837h2v1h-2zM1228 837h3v1h-3zM1233 837h2v1h-2zM1241 837h2v1h-2zM1246 837h3v1h-3zM92 838h9v1h-9zM107 838h6v1h-6zM128 838h4v1h-4zM133 838h1v1h-1zM140 838h12v1h-12zM352 838h11v1h-11zM368 838h4v1h-4zM380 838h4v1h-4zM398 838h4v1h-4zM406 838h2v1h-2zM421 838h2v1h-2zM432 838h2v1h-2zM441 838h18v1h-18zM493 838h2v1h-2zM518 838h2v1h-2zM832 838h1v1h-1zM838 838h3v1h-3zM858 838h2v1h-2zM862 838h2v1h-2zM994 838h2v1h-2zM997 838h2v1h-2zM1025 838h6v1h-6zM1045 838h3v1h-3zM1052 838h5v1h-5zM1211 838h2v1h-2zM1231 838h2v1h-2zM1243 838h3v1h-3zM113 839h15v1h-15zM132 839h1v1h-1zM372 839h8v1h-8zM408 839h13v1h-13zM434 839h2v1h-2zM439 839h2v1h-2zM459 839h2v1h-2zM476 839h7v1h-7zM491 839h2v1h-2zM833 839h5v1h-5zM860 839h2v1h-2zM996 839h1v1h-1zM1031 839h1v1h-1zM1043 839h2v1h-2zM1048 839h4v1h-4zM436 840h3v1h-3zM461 840h9v1h-9zM474 840h2v1h-2zM483 840h3v1h-3zM489 840h2v1h-2zM1032 840h7v1h-7zM1041 840h2v1h-2zM470 841h2v1h-2zM473 841h1v1h-1zM486 841h3v1h-3zM1039 841h2v1h-2zM472 842h1v1h-1z"/>
<g stroke-linecap="round" fill="none">
<path d="M1415.6 243.4L1437.2 160" stroke="#fff" stroke-width="3.1"/>
<path d="M1438.5 144.3L1442.3 150.5V166.8H1439.2L1438.4 160L1434.5 161.8L1430.9 159.4Z" fill="#fff" stroke="none"/>
<path d="M1392.8 296.5L1419.6 421.5M1408.2 406L1419.6 421.5L1424.5 403.8" stroke="#ee1c25" stroke-width="2.9" stroke-linejoin="round"/>
</g>
<rect x="1426" y="369" width="3" height="5" fill="#000" shape-rendering="crispEdges"/>
<text class="b" x="790.0" y="62.2" font-size="22.8" fill="#fff" stroke="#fff" stroke-width="0.8" stroke-linejoin="round" textLength="106.6" lengthAdjust="spacingAndGlyphs">EURUSD</text>
<text class="b" x="776.6" y="101.3" font-size="22.8" fill="#fff" stroke="#fff" stroke-width="0.8" stroke-linejoin="round" textLength="138.6" lengthAdjust="spacingAndGlyphs">Daily Chart</text>
<text class="b" x="1391.4" y="118.2" font-size="20.2" fill="#1e90ff" stroke="#1e90ff" stroke-width="0.8" stroke-linejoin="round" textLength="71.6" lengthAdjust="spacingAndGlyphs">1.1140</text><path fill="#091e3a" d="M1391.10 114.44H1396.45v4.56H1391.10zM1400.39 114.44H1405.39v4.56H1400.39zM1410.63 114.44H1415.98v4.56H1410.63zM1419.91 114.44H1424.92v4.56H1419.91zM1423.64 114.44H1429.00v4.56H1423.64zM1432.93 114.44H1437.93v4.56H1432.93z"/>
<text class="b" x="1346.0" y="277.3" font-size="20.2" fill="#1e90ff" stroke="#1e90ff" stroke-width="0.8" stroke-linejoin="round" textLength="104.6" lengthAdjust="spacingAndGlyphs">1.0980-99</text><path fill="#091e3a" d="M1345.70 273.54H1351.01v4.56H1345.70zM1354.92 273.54H1359.89v4.56H1354.92z"/>
<text class="b" x="1380.6" y="454.3" font-size="20.2" fill="#fff" stroke="#fff" stroke-width="0.8" stroke-linejoin="round" textLength="71.4" lengthAdjust="spacingAndGlyphs">1.0800</text><path fill="#091e3a" d="M1380.30 450.54H1385.64v4.56H1380.30zM1389.57 450.54H1394.56v4.56H1389.57z"/>
<text class="b" x="1368.7" y="540.3" font-size="20.2" fill="#fff" stroke="#fff" stroke-width="0.8" stroke-linejoin="round" textLength="71.2" lengthAdjust="spacingAndGlyphs">1.0700</text><path fill="#091e3a" d="M1368.40 536.54H1373.72v4.56H1368.40zM1377.64 536.54H1382.62v4.56H1377.64z"/>
</svg></body></html>
